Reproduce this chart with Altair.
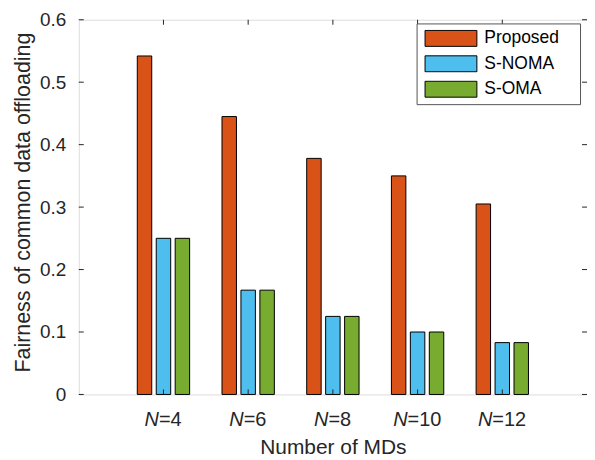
import altair as alt
import pandas as pd

categories = ["N=4", "N=6", "N=8", "N=10", "N=12"]
n_values = ["4", "6", "8", "10", "12"]
series = ["Proposed", "S-NOMA", "S-OMA"]
proposed = [0.542, 0.445, 0.378, 0.350, 0.305]
s_noma = [0.250, 0.167, 0.125, 0.100, 0.083]
s_oma = [0.250, 0.167, 0.125, 0.100, 0.083]
colors = ["#D95319", "#4DBEEE", "#77AC30"]
y_ticks = [0, 0.1, 0.2, 0.3, 0.4, 0.5, 0.6]

rows = []
for s, vals in zip(series, [proposed, s_noma, s_oma]):
    for c, v in zip(categories, vals):
        rows.append({"cat": c, "series": s, "value": v})
df = pd.DataFrame(rows)
lab_df = pd.DataFrame({"cat": categories, "num": n_values,
                       "rest": ["=" + n for n in n_values]})
yt_df = pd.DataFrame({"v": y_ticks})

W, H = 510, 376
TOP = 11
FONT = "Liberation Sans"
TXT = "#262626"

xs = alt.Scale(domain=categories, paddingInner=0.382, paddingOuter=0.691)
ys = alt.Scale(domain=[0, 0.6], nice=False, zero=True)

bars = alt.Chart(df).mark_bar(stroke="black", strokeWidth=1).encode(
    x=alt.X("cat:N", scale=xs, sort=categories,
            axis=alt.Axis(title="Number of MDs", labels=False, ticks=False,
                          domain=False, titleFontSize=21, titleFont=FONT,
                          titleColor=TXT, titleFontWeight="normal",
                          titleY=59, titleBaseline="alphabetic")),
    xOffset=alt.XOffset("series:N", sort=series,
                        scale=alt.Scale(domain=series, paddingInner=0.237, paddingOuter=0)),
    y=alt.Y("value:Q", scale=ys,
            axis=alt.Axis(values=y_ticks, format=".1~f",
                          title="Fairness of common data offloading",
                          ticks=False, domain=False, grid=False,
                          labelPadding=13, labelFontSize=19, labelFont=FONT,
                          labelColor=TXT, titleFontSize=21.5, titleFont=FONT,
                          titleColor=TXT, titleFontWeight="normal",
                          titleAngle=270, titleX=-55, titleY=183,
                          titleAlign="center", titleBaseline="middle")),
    color=alt.Color("series:N", scale=alt.Scale(domain=series, range=colors),
                    legend=alt.Legend(orient="none", legendX=339, legendY=3.7,
                                      title=None,
                                      symbolType="M-1,-0.3077H1V0.3077H-1Z",
                                      symbolSize=2704, symbolStrokeColor="black",
                                      symbolStrokeWidth=1, symbolOpacity=1,
                                      clipHeight=18, rowPadding=7.5, padding=6,
                                      symbolOffset=2, labelOffset=7,
                                      labelFontSize=17.5, labelFont=FONT,
                                      labelColor="#000000", strokeColor="#555555",
                                      fillColor="white",
                                      labelExpr="datum.label + '\u00a0\u00a0\u00a0\u200b'")),
)

tick_col = "#262626"
left_ticks = alt.Chart(yt_df).mark_rule(color=tick_col, strokeWidth=1).encode(
    y=alt.Y("v:Q", scale=ys, axis=None), x=alt.value(0), x2=alt.value(5))
right_ticks = alt.Chart(yt_df).mark_rule(color=tick_col, strokeWidth=1).encode(
    y=alt.Y("v:Q", scale=ys, axis=None), x=alt.value(W - 5), x2=alt.value(W))
top_ticks = alt.Chart(lab_df).mark_rule(color=tick_col, strokeWidth=1).encode(
    x=alt.X("cat:N", scale=xs, sort=categories, axis=None, bandPosition=0.5),
    y=alt.value(0), y2=alt.value(5))
bot_ticks = alt.Chart(lab_df).mark_rule(color=tick_col, strokeWidth=1).encode(
    x=alt.X("cat:N", scale=xs, sort=categories, axis=None, bandPosition=0.5),
    y=alt.value(H - 5), y2=alt.value(H))

def label_layers(cond, dx):
    base = alt.Chart(lab_df).transform_filter(cond)
    n_part = base.mark_text(align="right", baseline="alphabetic", dx=dx, fontStyle="italic",
                            font=FONT, fontSize=20, color=TXT).encode(
        x=alt.X("cat:N", scale=xs, sort=categories, axis=None), y=alt.value(H + 32),
        text=alt.value("N"))
    r_part = base.mark_text(align="left", baseline="alphabetic", dx=dx,
                            font=FONT, fontSize=20, color=TXT).encode(
        x=alt.X("cat:N", scale=xs, sort=categories, axis=None), y=alt.value(H + 32),
        text="rest:N")
    return [n_part, r_part]

layers = [bars, left_ticks, right_ticks, top_ticks, bot_ticks]
layers += label_layers("length(datum.num) == 1", -4.5)
layers += label_layers("length(datum.num) == 2", -10)

chart = alt.layer(*layers).resolve_axis(
    x="independent", y="independent"
).properties(
    width=W, height=H,
    autosize=alt.AutoSizeParams(type="none"),
    padding={"left": 71, "top": TOP, "right": 0, "bottom": 70},
).configure_view(stroke="#404040", strokeWidth=1).configure(background="white")

chart.save("out.html", embed_options={"renderer": "svg", "actions": False})
